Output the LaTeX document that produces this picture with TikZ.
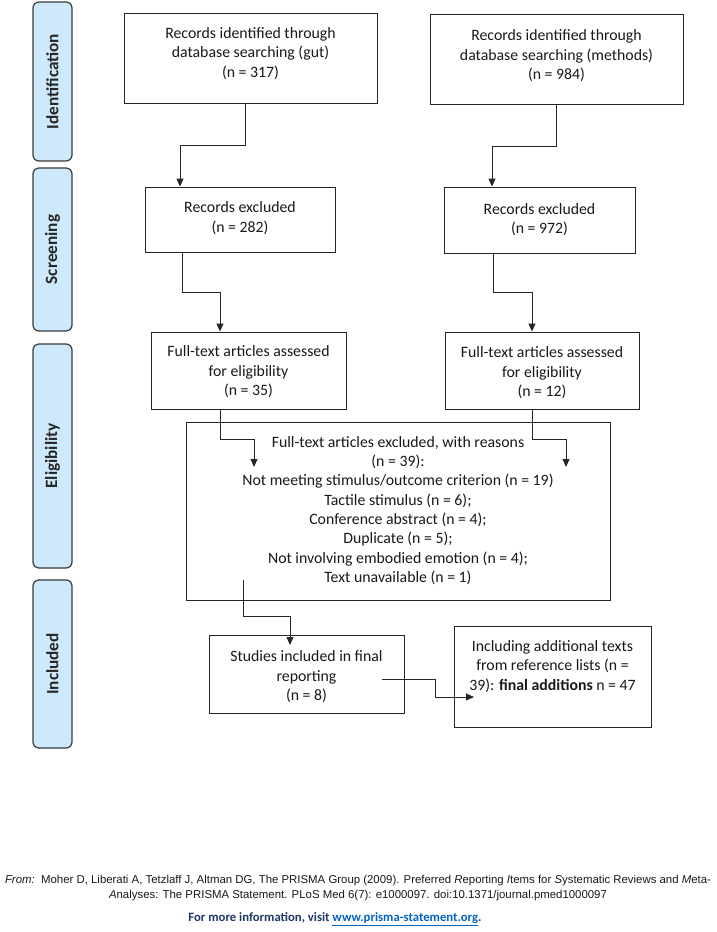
\documentclass[tikz,border=0pt]{standalone}
\usepackage{fontspec}
\setmainfont{Carlito}
\newfontfamily\arialfont{Liberation Sans}
\usetikzlibrary{arrows.meta,positioning,calc}
\definecolor{labfill}{HTML}{CDE9FB}
\definecolor{labdraw}{HTML}{3A3A3A}
\definecolor{boxdraw}{HTML}{262626}
\definecolor{navy}{HTML}{1F3864}
\definecolor{linkblue}{HTML}{0563C1}
\begin{document}
\begin{tikzpicture}[x=1pt,y=-1pt,
  stagebox/.style={draw=labdraw,line width=1.2pt,fill=labfill,rounded corners=6pt,minimum width=39pt,inner sep=0pt},
  stagetxt/.style={rotate=90,font=\fontsize{17.2}{20}\selectfont\bfseries,text=black!85},
  flowbox/.style={draw=boxdraw,line width=0.9pt,fill=white,inner sep=0pt},
  flowtxt/.style={align=center,inner sep=0pt,font=\fontsize{15.8}{19.5}\selectfont,text=black!90},
  arr/.style={draw=boxdraw,line width=0.9pt,-{Triangle[width=7pt,length=8pt]}},
  foot/.style={inner sep=0pt,font=\arialfont\fontsize{11.4}{13}\selectfont,text=black!90}
]
\useasboundingbox[fill=white] (0,0) rectangle (716,932);

% stage labels
\node[stagebox,minimum height=159pt] (s1) at (52.5,81.5) {};
\node[stagetxt] (s1t) at (s1.center) {Identification};
\node[stagebox,minimum height=163pt] (s2) at (52.5,249.5) {};
\node[stagetxt] (s2t) at (s2.center) {Screening};
\node[stagebox,minimum height=224pt] (s3) at (52.5,456) {};
\node[stagetxt] (s3t) at (s3.center) {Eligibility};
\node[stagebox,minimum height=168pt] (s4) at (52.5,664) {};
\node[stagetxt] (s4t) at (s4.center) {Included};

% boxes
\node[flowbox,minimum width=253pt,minimum height=90pt] (b1) at (250.5,58) {};
\node[flowtxt] (b1t) at (250.5,53.5) {Records identified through\\database searching (gut)\\(n = 317)};
\node[flowbox,minimum width=253pt,minimum height=90pt] (b2) at (556.5,59) {};
\node[flowtxt] (b2t) at (556.5,56) {Records identified through\\database searching (methods)\\(n = 984)};

\node[flowbox,minimum width=190pt,minimum height=65pt] (b3) at (240,219.5) {};
\node[flowtxt] (b3t) at (240,218) {Records excluded\\(n = 282)};
\node[flowbox,minimum width=191pt,minimum height=66pt] (b4) at (539.5,220) {};
\node[flowtxt] (b4t) at (539.5,219.5) {Records excluded\\(n = 972)};

\node[flowbox,minimum width=195pt,minimum height=77pt] (b5) at (248.5,370.5) {};
\node[flowtxt] (b5t) at (248.5,372) {Full-text articles assessed\\for eligibility\\(n = 35)};
\node[flowbox,minimum width=194pt,minimum height=77pt] (b6) at (542,370.5) {};
\node[flowtxt] (b6t) at (542,373) {Full-text articles assessed\\for eligibility\\(n = 12)};

\node[flowbox,minimum width=424pt,minimum height=178pt] (b7) at (398,511) {};
\node[flowtxt,font=\fontsize{15.8}{19.3}\selectfont] (b7t) at (398,510.5) {Full-text articles excluded, with reasons\\(n = 39):\\Not meeting stimulus/outcome criterion (n = 19)\\Tactile stimulus (n = 6);\\Conference abstract (n = 4);\\Duplicate (n = 5);\\Not involving embodied emotion (n = 4);\\Text unavailable (n = 1)};

\node[flowbox,minimum width=195pt,minimum height=78pt] (b8) at (306.5,674) {};
\node[flowtxt] (b8t) at (306.5,677) {Studies included in final\\reporting\\(n = 8)};
\node[flowbox,minimum width=197pt,minimum height=101pt] (b9) at (552.5,676.5) {};
\node[flowtxt] (b9t) at (552.5,666.5) {Including additional texts\\from reference lists (n =\\39): \textbf{final additions} n = 47};

% connectors
\coordinate (e5) at (254,467);
\coordinate (e6) at (566,467);
\coordinate (e7) at (290,645);
\coordinate (e8) at (474,697);
\draw[arr] ([xshift=-5.5pt]b1.south) -- ++(0,42) -| ([xshift=-60pt]b3.north);
\draw[arr] (b2.south) -- ++(0,42) -| ([xshift=-47.5pt]b4.north);
\draw[arr] ([xshift=-58pt]b3.south) -- ++(0,40) -| ([xshift=-28.5pt]b5.north);
\draw[arr] ([xshift=-46.5pt]b4.south) -- ++(0,39) -| ([xshift=-10pt]b6.north);
\draw[arr] ([xshift=-28.5pt]b5.south) -- ++(0,30) -| (e5);
\draw[arr] ([xshift=-10pt]b6.south) -- ++(0,30) -| (e6);
\draw[arr] ([xshift=-155pt,yshift=20pt]b7.south) -- ++(0,36) -| (e7);
\draw[arr] ([xshift=-22.5pt,yshift=-5pt]b8.east) -- ++(53,0) |- (e8);

% footer
\node[foot] (f1) at (358,881) {\textit{From:}\ \ Moher D, Liberati A, Tetzlaff J, Altman DG, The PRISMA Group (2009). Preferred \textit{R}eporting \textit{I}tems for \textit{S}ystematic Reviews and \textit{M}eta-};
\node[foot] (f2) at (358,896) {\textit{A}nalyses: The PRISMA Statement. PLoS Med 6(7): e1000097. doi:10.1371/journal.pmed1000097};
\node[inner sep=0pt,font=\fontsize{12.7}{14}\selectfont\bfseries,text=navy] (f3) at (335,919) {For more information, visit \textcolor{linkblue}{\underline{www.prisma-statement.org}}.};
\end{tikzpicture}
\end{document}
